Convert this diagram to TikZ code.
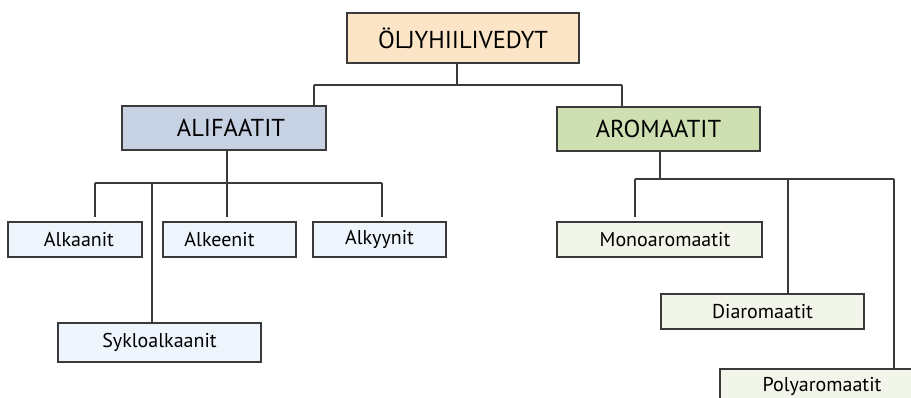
\documentclass[tikz,border=0pt]{standalone}
\usepackage{fontspec}
\setmainfont{PT Sans}
\definecolor{cTop}{HTML}{FBE5C6}
\definecolor{cAli}{HTML}{C6D1E3}
\definecolor{cAro}{HTML}{CEDFB2}
\definecolor{cLeft}{HTML}{EEF5FC}
\definecolor{cRight}{HTML}{F2F5E9}
\definecolor{cLine}{HTML}{3A3A3A}
\tikzset{
  box/.style={draw=cLine, line width=1.3pt, inner sep=0pt, text=black},
  bigbox/.style={box, font=\fontsize{24.5}{27}\selectfont},
  smallbox/.style={box, font=\fontsize{20}{23}\selectfont, minimum height=35pt},
  conn/.style={draw=cLine, line width=1.3pt},
}
\begin{document}
\begin{tikzpicture}[x=1pt,y=-1pt]
\useasboundingbox (0,0) rectangle (911,398);
\clip (0,0) rectangle (911,398);
\fill[white] (0,0) rectangle (911,398);
% nodes
\node[bigbox, fill=cTop, minimum width=232pt, minimum height=50pt] (top) at (463,38) {ÖLJYHIILIVEDYT};
\node[bigbox, fill=cAli, minimum width=204pt, minimum height=44pt] (ali) at (224,128) {\hspace*{14pt}ALIFAATIT};
\node[bigbox, fill=cAro, minimum width=203pt, minimum height=44pt] (aro) at (658.5,129) {AROMAATIT};
\node[smallbox, fill=cLeft, minimum width=134pt] (alk) at (75,239.5) {\hspace*{8pt}Alkaanit};
\node[smallbox, fill=cLeft, minimum width=133pt] (alke) at (229.5,239.5) {Alkeenit\hspace*{20pt}};
\node[smallbox, fill=cLeft, minimum width=133pt] (alky) at (379.5,239.5) {Alkyynit};
\node[smallbox, fill=cLeft, minimum width=203pt, minimum height=39pt] (syk) at (159.5,342.5) {Sykloalkaanit};
\node[smallbox, fill=cRight, minimum width=205pt] (mono) at (659.5,239.5) {\hspace*{11pt}Monoaromaatit};
\node[smallbox, fill=cRight, minimum width=203pt] (dia) at (762.5,311.5) {Diaromaatit};
\node[smallbox, fill=cRight, minimum width=204pt] (poly) at (822,386.5) {Polyaromaatit};
% junction coordinates
\coordinate (t0) at (457,85);
\coordinate (tL) at (314,85);
\coordinate (tR) at (622,85);
\coordinate (a0) at (227,183);
\coordinate (aL) at (95,183);
\coordinate (aS) at (152,183);
\coordinate (aR) at (382,183);
\coordinate (r0) at (660,179);
\coordinate (rL) at (635,179);
\coordinate (rD) at (788,179);
\coordinate (rR) at (894,179);
% connectors
\draw[conn] (top.south -| t0) -- (t0);
\draw[conn] (tL) -- (tR);
\draw[conn] (tL) -- (ali.north -| tL);
\draw[conn] (tR) -- (aro.north -| tR);
\draw[conn] (ali.south -| a0) -- (a0);
\draw[conn] (aL) -- (aR);
\draw[conn, shorten >=4pt] (aL) -- (alk.north -| aL);
\draw[conn, shorten >=4pt] (a0) -- (alke.north -| a0);
\draw[conn, shorten >=4pt] (aR) -- (alky.north -| aR);
\draw[conn] (aS) -- (syk.north -| aS);
\draw[conn] (aro.south -| r0) -- (r0);
\draw[conn] (rL) -- (rR);
\draw[conn, shorten >=4pt] (rL) -- (mono.north -| rL);
\draw[conn] (rD) -- (dia.north -| rD);
\draw[conn] (rR) -- (poly.north -| rR);
\end{tikzpicture}
\end{document}
